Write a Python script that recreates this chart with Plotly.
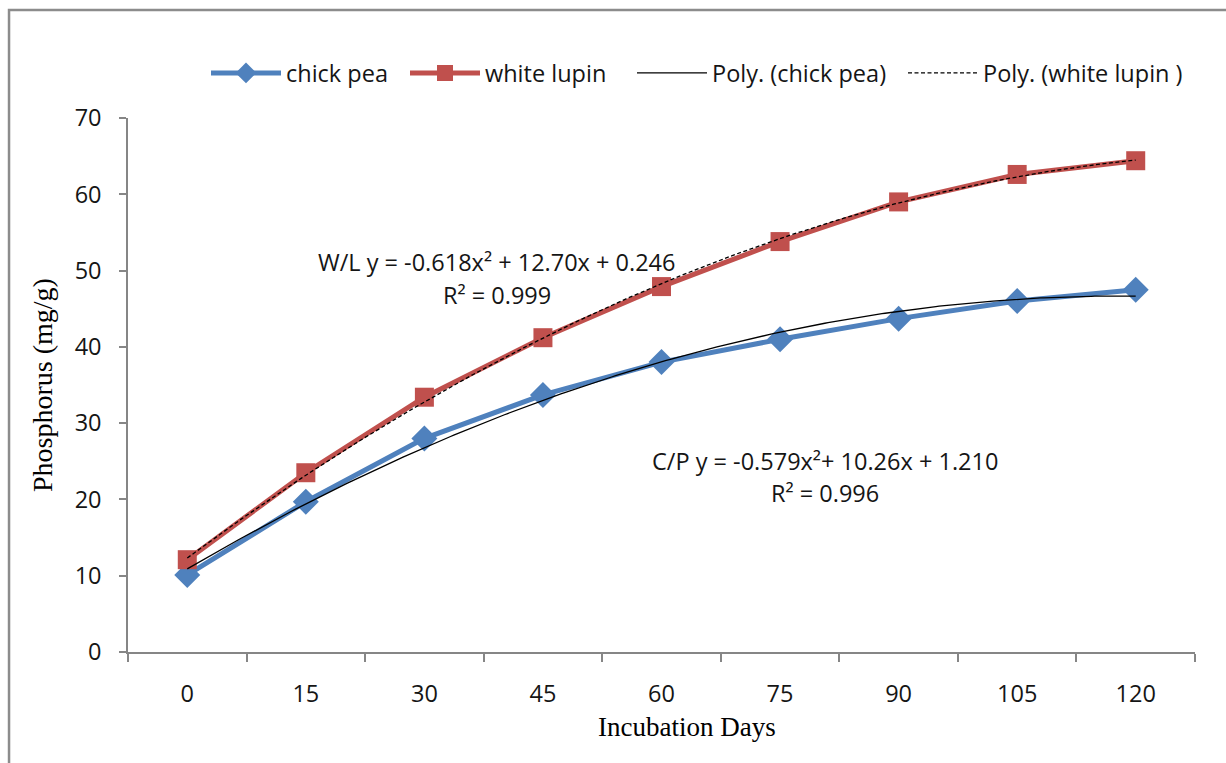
import numpy as np
import plotly.graph_objects as go

# ---- data ----
days = ["0", "15", "30", "45", "60", "75", "90", "105", "120"]
chick_pea = [10.1, 19.7, 28.0, 33.7, 38.0, 41.0, 43.7, 46.0, 47.5]
white_lupin = [12.1, 23.5, 33.4, 41.2, 47.9, 53.8, 59.0, 62.6, 64.4]
# polynomial trendline coefficients shown on the chart (x = category index 1..n)
cp_coef = [-0.579, 10.26, 1.210]
wl_coef = [-0.618, 12.70, 0.246]
cp_label = ["C/P y = -0.579x²+ 10.26x + 1.210", "R² = 0.996"]
wl_label = ["W/L y = -0.618x² + 12.70x + 0.246", "R² = 0.999"]

BLUE = "#4F81BD"
RED = "#C0504D"
AXIS = "#868686"
SANS = "Open Sans"
SERIF = "Liberation Serif"
TXT = "#151515"
FS = 23.5

idx = np.arange(1, len(days) + 1)
xs = np.linspace(idx[0], idx[-1], 300)

fig = go.Figure()
fig.add_trace(go.Scatter(
    x=idx, y=chick_pea, name="chick pea", mode="lines+markers", legend="legend",
    line=dict(color=BLUE, width=5),
    marker=dict(symbol="diamond", size=20, color=BLUE)))
fig.add_trace(go.Scatter(
    x=idx, y=white_lupin, name="white lupin", mode="lines+markers", legend="legend2",
    line=dict(color=RED, width=5),
    marker=dict(symbol="square", size=19, color=RED)))
fig.add_trace(go.Scatter(
    x=xs, y=np.polyval(cp_coef, xs), name="Poly. (chick pea)", mode="lines", legend="legend3",
    line=dict(color="black", width=1.3)))
fig.add_trace(go.Scatter(
    x=xs, y=np.polyval(wl_coef, xs), name="Poly. (white lupin )", mode="lines", legend="legend4",
    line=dict(color="black", width=1.3, dash="4px,2.5px")))

# equation labels
for lab, xc, ys in [(wl_label, 3.61, [51.1, 46.8]), (cp_label, 6.38, [25.0, 20.8])]:
    for t, yy in zip(lab, ys):
        fig.add_annotation(x=xc, y=yy, xref="x", yref="y", text=t, showarrow=False,
                           font=dict(family=SANS, size=FS, color=TXT),
                           xanchor="center", yanchor="middle")

# axis titles
fig.add_annotation(x=0.524, y=-0.1404, xref="paper", yref="paper", text="Incubation Days",
                   showarrow=False, font=dict(family=SERIF, size=27, color="black"),
                   xanchor="center", yanchor="middle")
fig.add_annotation(x=-0.0806, y=0.5, xref="paper", yref="paper", text="Phosphorus (mg/g)",
                   showarrow=False, textangle=-90, font=dict(family=SERIF, size=28, color="black"),
                   xanchor="center", yanchor="middle")

# outer chart frame
fig.add_shape(type="rect", xref="paper", yref="paper", x0=-0.1115, y0=-0.3, x1=1.2, y1=1.2022,
              line=dict(color="#8c8c8c", width=2.5), fillcolor="rgba(0,0,0,0)", layer="below")

def leg(xpx):
    return dict(orientation="h", x=(xpx - 5 - 128) / 1067, y=1.084, xanchor="left",
                yanchor="middle", font=dict(family=SANS, size=FS, color=TXT),
                itemwidth=70, bgcolor="rgba(0,0,0,0)")

fig.update_layout(
    width=1226, height=763,
    margin=dict(l=128, r=31, t=118, b=111, autoexpand=False),
    paper_bgcolor="white", plot_bgcolor="white",
    font=dict(family=SANS, size=FS, color=TXT),
    showlegend=True,
    legend=leg(211), legend2=leg(410), legend3=leg(637), legend4=leg(908),
    xaxis=dict(range=[0.5, len(days) + 0.5], tickmode="array", tickvals=idx, ticktext=days,
               showline=True, linecolor=AXIS, linewidth=1.5, ticks="", showgrid=False,
               zeroline=False, ticklabelstandoff=20,
               tickfont=dict(family=SANS, size=FS, color=TXT),
               minor=dict(tickmode="linear", tick0=0.5, dtick=1, ticks="outside",
                          ticklen=8, tickcolor=AXIS, tickwidth=1.5, showgrid=False)),
    yaxis=dict(range=[0, 70], dtick=10, showline=True, linecolor=AXIS, linewidth=1.5,
               ticks="outside", ticklen=7, tickcolor=AXIS, tickwidth=1.5, showgrid=False,
               zeroline=False, ticklabelstandoff=13,
               tickfont=dict(family=SANS, size=FS, color=TXT)),
)

fig.write_html("out.html")
